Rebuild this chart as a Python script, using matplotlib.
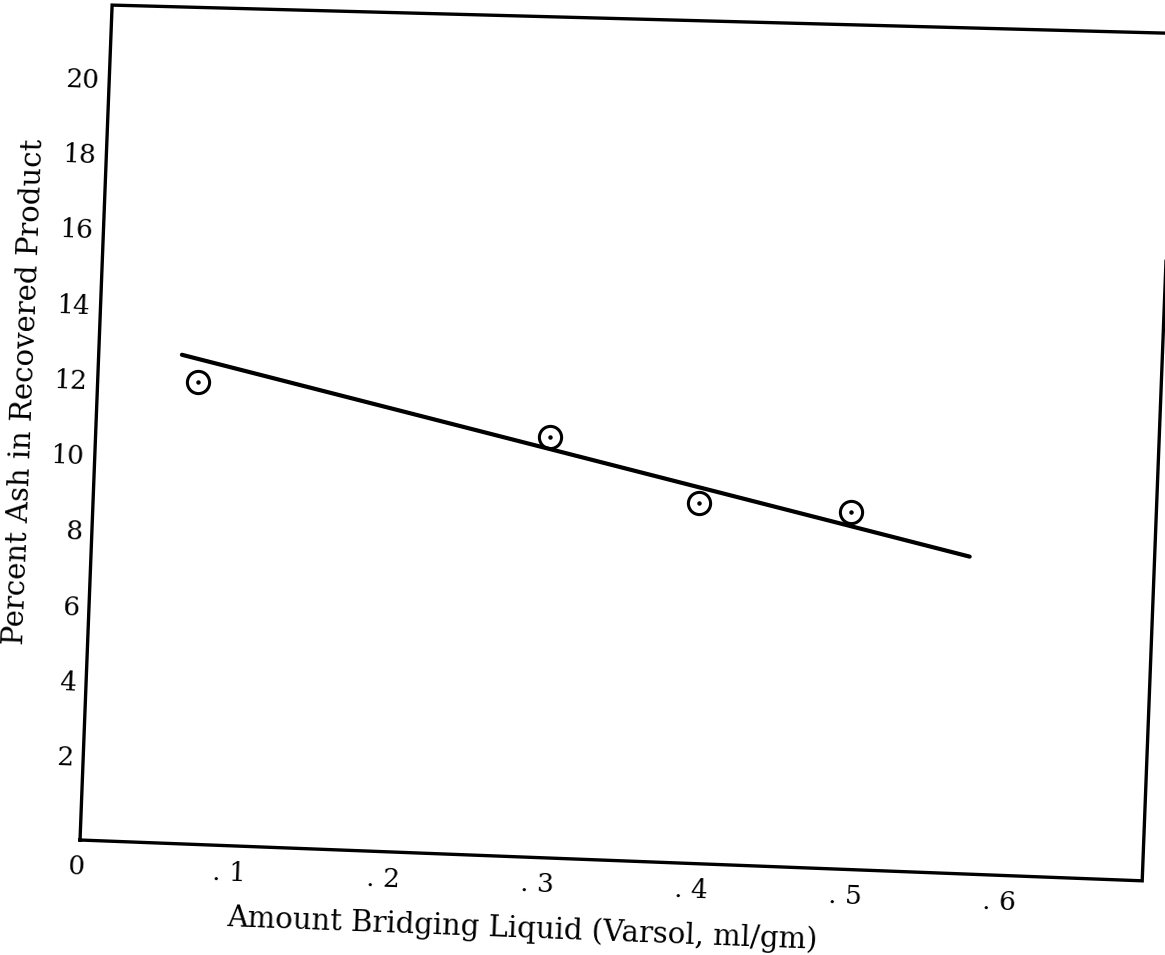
import matplotlib.pyplot as plt
from matplotlib.transforms import Affine2D, offset_copy

# measured points (Varsol ml/gm vs % ash)
ash_x = [0.068, 0.298, 0.396, 0.495]
ash_y = [12.1, 11.0, 9.4, 9.3]

# hand fitted line end points
fit_x = [0.057, 0.573]
fit_y = [12.8, 8.25]

x_ticks = [0, 0.1, 0.2, 0.3, 0.4, 0.5, 0.6]
x_labels = ['0', '. 1', '. 2', '. 3', '. 4', '. 5', '. 6']
y_ticks = [2, 4, 6, 8, 10, 12, 14, 16, 18, 20]

# the scanned page is slightly tilted
TILT = -2.2
FONT = 'DejaVu Serif'

fig = plt.figure(figsize=(11.65, 9.55), dpi=100)
ax = fig.add_axes([0.0687, 0.1204, 0.9124, 0.8749])
ax.set_xlim(0.003, 0.693)
ax.set_ylim(-0.17, 22.0)
ax.set_axis_off()

# rotate everything about the lower left corner of the frame
x0, y0 = ax.transAxes.transform((0, 0))
rot = Affine2D().rotate_deg_around(x0, y0, TILT)
tr_data = ax.transData + rot
tr_axes = ax.transAxes + rot
tr_xaxis = ax.get_xaxis_transform() + rot
tr_yaxis = ax.get_yaxis_transform() + rot

# hand drawn frame, top edge a little less tilted than the rest
ax.plot([0, 1, 1.0, 0, 0], [0, 0, 1.015, 1, 0], transform=tr_axes, color='black',
        lw=2.4, clip_on=False, solid_joinstyle='miter')

# fitted line and points
ax.plot(fit_x, fit_y, transform=tr_data, color='black', lw=3.0,
        solid_capstyle='round', clip_on=False)
ax.plot(ash_x, ash_y, 'o', transform=tr_data, mfc='none', mec='black',
        ms=16, mew=2.2, clip_on=False)
ax.plot(ash_x, ash_y, 'o', transform=tr_data, color='black', ms=2.2,
        clip_on=False)

# tick labels
for t, lab in zip(x_ticks, x_labels):
    ax.text(t, 0, lab, transform=offset_copy(tr_xaxis, fig=fig, x=0, y=-27, units='dots'),
            ha='center', va='center', rotation=TILT, rotation_mode='anchor',
            fontsize=19, family=FONT)
for v in y_ticks:
    ax.text(0, v, str(v), transform=offset_copy(tr_yaxis, fig=fig, x=-10, y=0, units='dots'),
            ha='right', va='center', rotation=TILT, rotation_mode='anchor',
            fontsize=19, family=FONT)

# axis titles
ax.text(0.419, -0.086, 'Amount Bridging Liquid (Varsol, ml/gm)', transform=tr_axes,
        ha='center', va='center', rotation=TILT, rotation_mode='anchor',
        fontsize=21, family=FONT)
ax.text(-0.068, 0.533, 'Percent Ash in Recovered Product', transform=tr_axes,
        ha='center', va='center', rotation=90 + TILT, rotation_mode='anchor',
        fontsize=21, family=FONT)

fig.savefig('out.png', dpi=100)
